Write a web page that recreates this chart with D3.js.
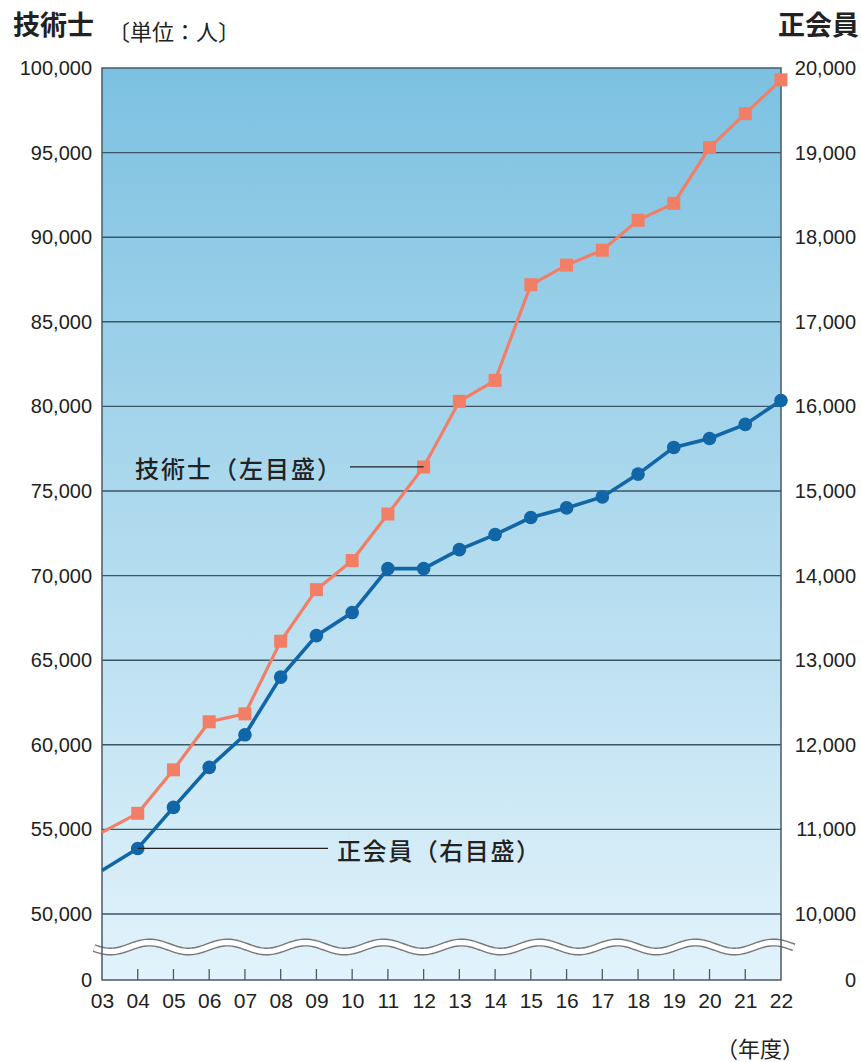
<!DOCTYPE html>
<html>
<head>
<meta charset="utf-8">
<script src="https://cdn.jsdelivr.net/npm/d3@7"></script>
<style>
  body { margin: 0; background: #fff; }
  text { font-family: "Liberation Sans", Arial, sans-serif; fill: #222; }
  .jp { font-family: "Noto Sans CJK JP", sans-serif; }
</style>
</head>
<body>
<svg id="chart" width="861" height="1062"></svg>
<script>
// fiscal years (03 .. 22)
var years = ["03","04","05","06","07","08","09","10","11","12","13","14","15","16","17","18","19","20","21","22"];

// 技術士 (left axis)
var engineers = [54820, 55950, 58520, 61360, 61830, 66120, 69170, 70890, 73640, 76420,
                 80300, 81540, 87190, 88350, 89230, 91000, 92000, 95300, 97300, 99300];

// 正会員 (right axis)
var members = [10515, 10775, 11260, 11733, 12118, 12800, 13290, 13563, 14083, 14083,
               14307, 14485, 14686, 14800, 14930, 15200, 15515, 15620, 15787, 16070];

var leftTicks = [0, 50000, 55000, 60000, 65000, 70000, 75000, 80000, 85000, 90000, 95000, 100000];
var rightTicks = [0, 10000, 11000, 12000, 13000, 14000, 15000, 16000, 17000, 18000, 19000, 20000];

var margins = {left: 102, right: 80, top: 68, bottom: 82};
var plotW = 861 - margins.left - margins.right;   // 679
var bottomY = 980;

var svg = d3.select("#chart");

var xScale = d3.scalePoint()
    .domain(years)
    .range([margins.left, margins.left + plotW]);

// broken axis: 0 sits below the break, the rest is linear
var yLeft = d3.scaleLinear()
    .domain([0, 50000, 100000])
    .range([bottomY, 914, margins.top]);

var yRight = d3.scaleLinear()
    .domain([0, 10000, 20000])
    .range([bottomY, 914, margins.top]);

// background gradient
var grad = svg.append("defs").append("linearGradient")
    .attr("id", "bg")
    .attr("x1", 0).attr("y1", 0).attr("x2", 0).attr("y2", 1);
grad.append("stop").attr("offset", "0%").attr("stop-color", "#7cc1e1");
grad.append("stop").attr("offset", "100%").attr("stop-color", "#e2f3fb");

svg.append("rect")
    .attr("x", margins.left)
    .attr("y", margins.top)
    .attr("width", plotW)
    .attr("height", bottomY - margins.top)
    .attr("fill", "url(#bg)");

// gridlines
svg.append("g")
    .selectAll("line")
    .data(leftTicks.filter(function(d){ return d >= 50000 && d < 100000; }))
    .enter()
    .append("line")
    .attr("x1", margins.left)
    .attr("x2", margins.left + plotW)
    .attr("y1", function(d){ return yLeft(d); })
    .attr("y2", function(d){ return yLeft(d); })
    .attr("stroke", "#3e5566")
    .attr("stroke-width", 1.4);

// axis break (wavy white band)
var waveX = d3.range(margins.left - 8, margins.left + plotW + 15, 2);
var waveLine = function(off) {
    return d3.line()
        .x(function(d){ return d; })
        .y(function(d){ return 947 + off - 4.5 * Math.sin((d - 130) / 78 * 2 * Math.PI); })(waveX);
};
svg.append("path")
    .attr("d", waveLine(0))
    .attr("fill", "none")
    .attr("stroke", "#777")
    .attr("stroke-width", 8);
svg.append("path")
    .attr("d", waveLine(0))
    .attr("fill", "none")
    .attr("stroke", "#fff")
    .attr("stroke-width", 5.2);

// frame: left, right, bottom, top
svg.append("path")
    .attr("d", "M" + margins.left + "," + margins.top +
               "V" + bottomY + "H" + (margins.left + plotW) + "V" + margins.top + "Z")
    .attr("fill", "none")
    .attr("stroke", "#4b5a64")
    .attr("stroke-width", 1.5);

// left axis labels
var leftAxis = d3.axisLeft(yLeft)
    .tickValues(leftTicks)
    .tickSize(0)
    .tickPadding(10)
    .tickFormat(d3.format(","));
svg.append("g")
    .attr("transform", "translate(" + margins.left + ",0)")
    .call(leftAxis)
    .call(function(g){ g.select(".domain").remove(); })
    .selectAll("text")
    .style("font-size", "20px")
    .attr("fill", "#222");

// right axis labels (right aligned at page edge)
var rightAxis = d3.axisRight(yRight)
    .tickValues(rightTicks)
    .tickSize(0)
    .tickPadding(0)
    .tickFormat(d3.format(","));
svg.append("g")
    .attr("transform", "translate(856,0)")
    .call(rightAxis)
    .call(function(g){ g.select(".domain").remove(); })
    .selectAll("text")
    .attr("text-anchor", "end")
    .style("font-size", "20px")
    .attr("fill", "#222");

// bottom axis
var xAxis = d3.axisBottom(xScale).tickSize(0).tickPadding(13);
svg.append("g")
    .attr("transform", "translate(0," + bottomY + ")")
    .call(xAxis)
    .call(function(g){ g.select(".domain").remove(); })
    .selectAll("text")
    .style("font-size", "21px")
    .attr("fill", "#222");

svg.append("g")
    .selectAll("line")
    .data(years.slice(1, years.length - 1))
    .enter()
    .append("line")
    .attr("x1", function(d){ return xScale(d); })
    .attr("x2", function(d){ return xScale(d); })
    .attr("y1", bottomY)
    .attr("y2", bottomY - 11)
    .attr("stroke", "#4b5a64")
    .attr("stroke-width", 1.3);

// lines
var engLine = d3.line()
    .x(function(d, i){ return xScale(years[i]); })
    .y(function(d){ return yLeft(d); });
var memLine = d3.line()
    .x(function(d, i){ return xScale(years[i]); })
    .y(function(d){ return yRight(d); });

svg.append("path")
    .attr("d", engLine(engineers))
    .attr("fill", "none")
    .attr("stroke", "#f37e66")
    .attr("stroke-width", 3.2);

svg.append("path")
    .attr("d", memLine(members))
    .attr("fill", "none")
    .attr("stroke", "#1066a6")
    .attr("stroke-width", 3.6);

// markers (none at the first year)
svg.append("g")
    .selectAll("rect")
    .data(engineers.slice(1))
    .enter()
    .append("rect")
    .attr("x", function(d, i){ return xScale(years[i + 1]) - 6.5; })
    .attr("y", function(d){ return yLeft(d) - 6.5; })
    .attr("width", 13)
    .attr("height", 13)
    .attr("fill", "#f37e66");

svg.append("g")
    .selectAll("circle")
    .data(members.slice(1))
    .enter()
    .append("circle")
    .attr("cx", function(d, i){ return xScale(years[i + 1]); })
    .attr("cy", function(d){ return yRight(d); })
    .attr("r", 6.8)
    .attr("fill", "#1066a6");

// series labels with leader lines
svg.append("line")
    .attr("x1", 350).attr("x2", xScale("12"))
    .attr("y1", yLeft(engineers[9])).attr("y2", yLeft(engineers[9]))
    .attr("stroke", "#222").attr("stroke-width", 1.3);
svg.append("text")
    .attr("class", "jp")
    .attr("x", 135)
    .attr("y", yLeft(engineers[9]) + 11)
    .attr("textLength", 206)
    .attr("lengthAdjust", "spacing")
    .style("font-size", "24px")
    .style("font-weight", "500")
    .text("技術士（左目盛）");

svg.append("line")
    .attr("x1", xScale("04")).attr("x2", 328)
    .attr("y1", yRight(members[1])).attr("y2", yRight(members[1]))
    .attr("stroke", "#222").attr("stroke-width", 1.3);
svg.append("text")
    .attr("class", "jp")
    .attr("x", 337)
    .attr("y", yRight(members[1]) + 12)
    .attr("textLength", 203)
    .attr("lengthAdjust", "spacing")
    .style("font-size", "24px")
    .style("font-weight", "500")
    .text("正会員（右目盛）");

// titles
svg.append("text")
    .attr("class", "jp")
    .attr("x", 13).attr("y", 35)
    .style("font-size", "27px")
    .style("font-weight", "bold")
    .text("技術士");
svg.append("text")
    .attr("class", "jp")
    .attr("x", 108).attr("y", 40)
    .style("font-size", "22px")
    .text("〔単位：人〕");
svg.append("text")
    .attr("class", "jp")
    .attr("x", 859).attr("y", 35)
    .attr("text-anchor", "end")
    .style("font-size", "27px")
    .style("font-weight", "bold")
    .text("正会員");
svg.append("text")
    .attr("class", "jp")
    .attr("x", 804).attr("y", 1057)
    .attr("text-anchor", "end")
    .style("font-size", "22px")
    .text("（年度）");
</script>
</body>
</html>
